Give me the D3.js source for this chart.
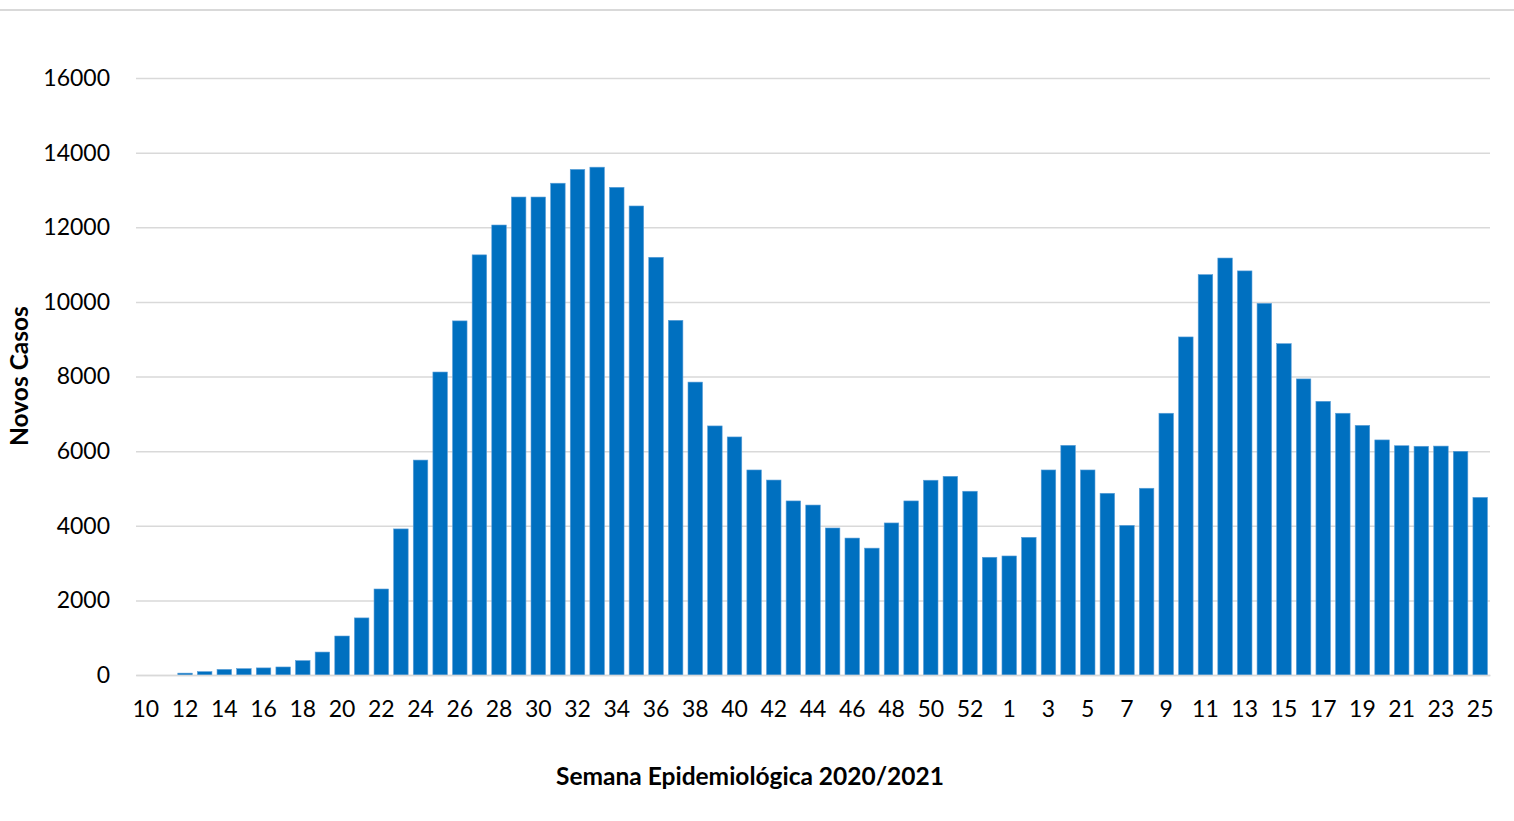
<!DOCTYPE html>
<html>
<head>
<meta charset="utf-8">
<script src="https://cdn.jsdelivr.net/npm/d3@7"></script>
<style>
  body { margin: 0; background: #fff; }
  svg { display: block; font-family: Lato, "Open Sans", sans-serif; }
</style>
</head>
<body>
<div id="chart"></div>
<script>
let width = 1514;
let height = 821;
let margin = ({top: 78, right: 24, bottom: 146, left: 136});

////////////////////////////////
//   Data
////////////////////////////////
// epidemiological weeks: 10..53 of 2020, then 1..25 of 2021
let weeks2020 = d3.range(10, 54);
let weeks2021 = d3.range(1, 26);

let cases2020 = [
  0, 0, 50, 90, 150, 170, 190, 215, 385, 615,
  1045, 1530, 2305, 3915, 5760, 8120, 9490, 11260, 12060, 12810,
  12810, 13180, 13550, 13610, 13070, 12570, 11195, 9505, 7850, 6675,
  6380, 5495, 5225, 4665, 4555, 3940, 3670, 3400, 4075, 4665,
  5220, 5325, 4925, 3155
];
let cases2021 = [
  3190, 3690, 5495, 6155, 5495, 4870, 4010, 5005, 7015, 9060,
  10730, 11175, 10830, 9960, 8880, 7935, 7335, 7015, 6690, 6300,
  6145, 6130, 6135, 5995, 4760
];

let yTicks = [0, 2000, 4000, 6000, 8000, 10000, 12000, 14000, 16000];

let data = weeks2020.map((w, i) => ({key: "2020-" + w, week: w, value: cases2020[i]}))
  .concat(weeks2021.map((w, i) => ({key: "2021-" + w, week: w, value: cases2021[i]})));

/////////////////////////////
//   Setup Chart Elements
/////////////////////////////
let svg = d3.select("#chart")
  .append("svg")
  .attr("width", width)
  .attr("height", height);

// top border of the chart area
svg.append("line")
  .attr("x1", 0).attr("x2", width)
  .attr("y1", 10).attr("y2", 10)
  .attr("stroke", "#d9d9d9")
  .attr("stroke-width", 2);

let g = svg.append("g")
  .attr("transform", "translate(" + margin.left + "," + margin.top + ")");

let innerW = width - margin.left - margin.right;
let innerH = height - margin.top - margin.bottom;

let x = d3.scaleBand()
  .domain(data.map(d => d.key))
  .range([0, innerW])
  .paddingInner(0.26)
  .paddingOuter(0.13);

let y = d3.scaleLinear().domain([0, 16000]).range([innerH, 0]);

// gridlines + y labels
let yAxis = g.append("g")
  .call(d3.axisLeft(y).tickValues(yTicks).tickSize(-innerW).tickPadding(26).tickFormat(d3.format("d")));
yAxis.select(".domain").remove();
yAxis.selectAll(".tick line").attr("stroke", "#d9d9d9").attr("stroke-width", 1.5);
yAxis.selectAll(".tick text")
  .attr("font-size", "23px")
  .attr("fill", "#000")
  .style("font-family", "Lato, 'Open Sans', sans-serif");

///////////////////////////
//   Drawing the Chart
///////////////////////////
g.append("g")
  .selectAll("rect")
  .data(data.filter(d => d.value > 0))
  .enter()
  .append("rect")
    .attr("x", d => x(d.key))
    .attr("y", d => y(d.value))
    .attr("width", x.bandwidth())
    .attr("height", d => innerH - y(d.value))
    .attr("fill", "#0070c0")
    .attr("stroke", "#5b9fd8")
    .attr("stroke-width", 0.6);

// x axis (every other week labelled)
let xAxis = g.append("g")
  .attr("transform", "translate(0," + innerH + ")")
  .call(d3.axisBottom(x)
    .tickValues(data.filter((d, i) => i % 2 === 0).map(d => d.key))
    .tickFormat(k => k.split("-")[1])
    .tickSize(0)
    .tickPadding(26));
xAxis.select(".domain").attr("stroke", "#d9d9d9").attr("stroke-width", 1.5);
xAxis.selectAll(".tick text")
  .attr("font-size", "23px")
  .attr("fill", "#000")
  .style("font-family", "Lato, 'Open Sans', sans-serif");

////////////////////
//   Axis Labels
////////////////////
svg.append("text")
  .attr("x", 750)
  .attr("y", 785)
  .attr("text-anchor", "middle")
  .attr("font-size", "24.5px")
  .attr("font-weight", "bold")
  .text("Semana Epidemiológica 2020/2021");

svg.append("text")
  .attr("transform", "translate(28," + 376 + ") rotate(-90)")
  .attr("text-anchor", "middle")
  .attr("font-size", "24.5px")
  .attr("font-weight", "bold")
  .text("Novos Casos");
</script>
</body>
</html>
